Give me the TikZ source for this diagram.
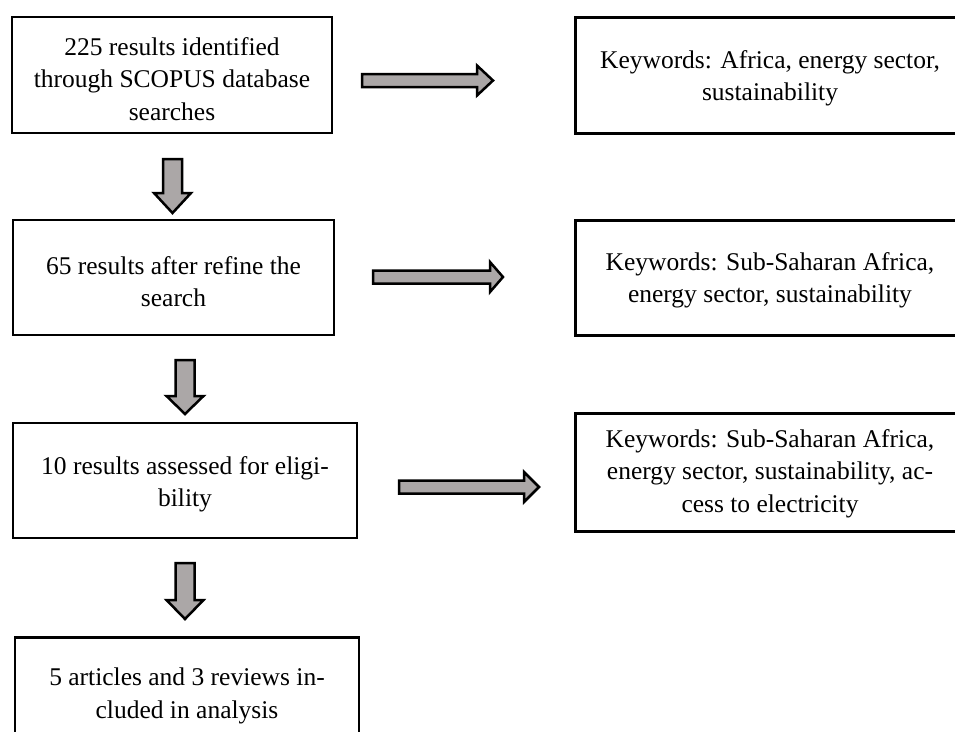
\documentclass[tikz,border=0pt]{standalone}
\usepackage{fontspec}
\setmainfont{Liberation Serif}
\definecolor{arrowgray}{RGB}{171,167,167}
\tikzset{
  box/.style={draw=black, line width=2.5pt, fill=white, inner sep=0pt},
  lbox/.style={box, minimum width=320pt, minimum height=116pt},
  rbox/.style={box, minimum width=390pt, minimum height=116pt, line width=3pt},
  txt/.style={align=center, inner sep=0pt, font=\fontsize{25.5}{32.5}\selectfont},
  blockarr/.style={draw=black, line width=2.5pt, fill=arrowgray, line join=miter},
}
\newcommand{\HArrow}[4]{% start x, head x, tip x, centre y
  \draw[blockarr] (#1,#4-6.5) -- (#2,#4-6.5) -- (#2,#4-15) -- (#3,#4)
     -- (#2,#4+15) -- (#2,#4+6.5) -- (#1,#4+6.5) -- cycle;}
\newcommand{\VArrow}[4]{% centre x, top y, head y, tip y
  \draw[blockarr] (#1-9.5,#2) -- (#1+9.5,#2) -- (#1+9.5,#3) -- (#1+18.5,#3)
     -- (#1,#4) -- (#1-18.5,#3) -- (#1-9.5,#3) -- cycle;}
\begin{document}
\begin{tikzpicture}[x=1pt, y=-1pt]
\useasboundingbox (0,0) rectangle (955,731);
% left column
\node[lbox] (b1) at (172,75) {};
\node[txt] (t1) at ([yshift=-4pt]b1.center) {225 results identified\\through SCOPUS database\\searches};
\node[lbox, minimum width=321pt, minimum height=115pt] (b2) at (173.5,277.5) {};
\node[txt] (t2) at ([yshift=-4pt]b2.center) {65 results after refine the\\search};
\node[lbox, minimum width=344pt, minimum height=115pt] (b3) at (185,480.5) {};
\node[txt] (t3) at ([yshift=-4pt]b3.center) {10 results assessed for eligi-\\bility};
\node[lbox, minimum width=344pt, minimum height=115pt, anchor=north] (b4) at (187,636) {};
\node[txt] (t4) at ([yshift=-1pt]b4.center) {5 articles and 3 reviews in-\\cluded in analysis};
% right column
\node[rbox] (k1) at (770,75) {};
\node[txt] (u1) at ([yshift=-3.5pt]k1.center) {Keywords: Africa, energy sector,\\sustainability};
\node[rbox, minimum height=115pt] (k2) at (770,277.5) {};
\node[txt] (u2) at ([yshift=-3pt]k2.center) {Keywords: Sub-Saharan Africa,\\energy sector, sustainability};
\node[rbox, minimum height=118pt] (k3) at (770,472) {};
\node[txt] (u3) at ([yshift=-1.5pt]k3.center) {Keywords: Sub-Saharan Africa,\\energy sector, sustainability, ac-\\cess to electricity};
% vertical block arrows
\VArrow{172.5}{159}{193}{213}
\VArrow{185}{360}{396}{414}
\VArrow{185}{563}{600}{619}
% horizontal block arrows
\HArrow{362}{477}{493}{80.5}
\HArrow{373}{490}{503}{277}
\HArrow{399}{524}{539}{487}
\end{tikzpicture}
\end{document}
